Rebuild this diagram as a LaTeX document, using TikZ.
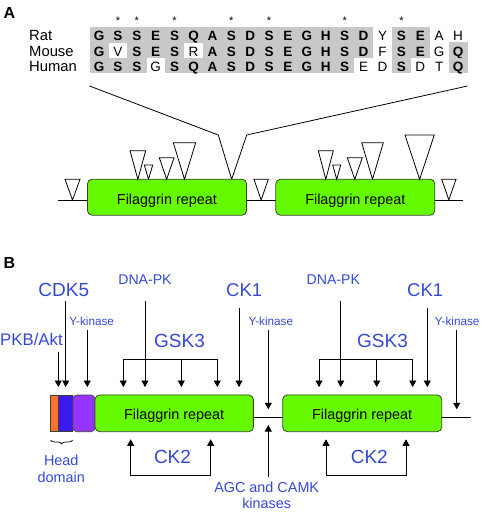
\documentclass[tikz,border=0pt]{standalone}
\usepackage{fontspec}
\setmainfont{Liberation Sans}
\usetikzlibrary{arrows.meta}
\usetikzlibrary{decorations.pathreplacing}

\definecolor{repgreen}{RGB}{102,250,0}
\definecolor{repedge}{RGB}{55,70,40}
\definecolor{kinblue}{RGB}{52,72,214}
\definecolor{seqgrey}{RGB}{200,200,200}
\definecolor{headorange}{RGB}{255,112,44}
\definecolor{headblue}{RGB}{60,24,242}
\definecolor{headpurple}{RGB}{152,52,255}

\newcommand{\fsz}[1]{\fontsize{#1}{#1}\selectfont}

\tikzset{
  repbox/.style={draw=repedge, fill=repgreen, rounded corners=4.5pt, line width=0.8pt,
    minimum width=159pt, minimum height=36pt, inner sep=0pt, font=\fsz{14.4}, text depth=0pt},
  kin/.style={text=kinblue, inner sep=0pt, anchor=base, font=\fsz{#1}},
  kar/.style={-{Triangle[width=7pt,length=6.5pt]}, line width=0.8pt},
  kartwo/.style={{Triangle[width=7pt,length=6.5pt]}-{Triangle[width=7pt,length=6.5pt]}, line width=0.8pt, line join=miter},
  site/.style={draw, fill=white, line width=0.8pt},
  seq/.style={inner sep=0pt, anchor=base, font=\fsz{13.5}},
  spc/.style={inner sep=0pt, anchor=base west, font=\fsz{14.8}},
}

\begin{document}
\begin{tikzpicture}[x=1pt, y=-1pt]
  \useasboundingbox (0,0) rectangle (480,512);

  % --- A: alignment
  \node[inner sep=0pt, anchor=base west, font=\fsz{16}\bfseries] (pa) at (3.3,18.3) {A};
  \node[spc] (rat) at (29,40.7) {Rat};
  \node[spc] (mouse) at (29,56.2) {Mouse};
  \node[spc] (human) at (29,71.7) {Human};

  \foreach \aa/\gg [count=\i from 0] in {G/1,S/1,S/1,E/1,S/1,Q/1,A/1,S/1,D/1,S/1,E/1,G/1,H/1,S/1,D/1,Y/0,S/1,E/1,A/0,H/0}{
    \ifnum\gg=1 \fill[seqgrey] ({89.55+18.9*\i},27) rectangle ++(19.2,15.6); \fi
    \node[seq] (r\i) at ({99+18.9*\i},40.7) {\ifnum\gg=1 \bfseries\fi\aa};
  }
  \foreach \aa/\gg [count=\i from 0] in {G/1,V/0,S/1,E/1,S/1,R/0,A/1,S/1,D/1,S/1,E/1,G/1,H/1,S/1,D/1,F/0,S/1,E/1,G/0,Q/1}{
    \ifnum\gg=1 \fill[seqgrey] ({89.55+18.9*\i},42.33) rectangle ++(19.2,15.6); \fi
    \node[seq] (m\i) at ({99+18.9*\i},56.2) {\ifnum\gg=1 \bfseries\fi\aa};
  }
  \foreach \aa/\gg [count=\i from 0] in {G/1,S/1,S/1,G/0,S/1,Q/1,A/1,S/1,D/1,S/1,E/1,G/1,H/1,S/1,E/0,D/0,S/1,D/0,T/0,Q/1}{
    \ifnum\gg=1 \fill[seqgrey] ({89.55+18.9*\i},57.67) rectangle ++(19.2,15.33); \fi
    \node[seq] (h\i) at ({99+18.9*\i},71.7) {\ifnum\gg=1 \bfseries\fi\aa};
  }
  \foreach \c in {1,2,4,7,9,13,16}
    \node[inner sep=0pt, anchor=base, font=\fsz{11}] (st\c) at ({99+18.9*\c},24.6) {*};

  % zoom lines
  \draw[line width=0.8pt] (89.55,86) -- (218.3,135) -- (231.7,179.3) -- (246.7,135) -- (467.5,86);

  % --- A: gene
  \draw[line width=0.8pt] (58,200) -- (463,200);
  \node[repbox, text height=14.2pt] (fa1) at (167,197.2) {Filaggrin repeat};
  \node[repbox, text height=14.2pt] (fa2) at (355.3,197.2) {Filaggrin repeat};
  \foreach \xl/\xr/\yt/\yb in {65/80/179.3/200, 130/145.7/150.7/179.3, 144.3/152.7/165/179.3,
      159.3/174/157.7/179.3, 173.3/195.7/142.7/179.3, 254/268.3/179.3/200,
      318.3/333.3/150.7/179.3, 332.7/340.7/165/179.3, 347.3/362.3/157.7/179.3,
      361.7/383.3/142.7/179.3, 405/434.3/135/179.3, 441.7/456/179.3/200}
    \draw[site] (\xl,\yt) -- (\xr,\yt) -- ({(\xl+\xr)/2},\yb) -- cycle;

  % --- B: protein
  \node[inner sep=0pt, anchor=base west, font=\fsz{16}\bfseries] (pb) at (3.3,268.3) {B};
  \draw[line width=0.8pt] (250,417.7) -- (470.7,417.7);
  \filldraw[fill=headorange, draw=repedge, line width=0.6pt] (50.7,395) rectangle (58.3,431.7);
  \filldraw[fill=headblue, draw=repedge, line width=0.6pt] (58.3,395) rectangle (72.7,431.7);
  \filldraw[fill=headpurple, draw=repedge, line width=0.6pt, rounded corners=4pt] (72.7,395) rectangle (95,431.7);
  \node[repbox, minimum width=158.3pt, minimum height=36.7pt, text height=12pt] (fb1) at (174.2,413.3) {Filaggrin repeat};
  \node[repbox, minimum width=159pt, minimum height=36.7pt, text height=12pt] (fb2) at (362.2,413.3) {Filaggrin repeat};
  \draw[decorate, decoration={brace, mirror, amplitude=4pt}, line width=0.7pt] (50.7,440) -- (72.7,440);

  % kinase labels
  \node[kin=16.8, anchor=base west] (pkb) at (0,345) {PKB/Akt};
  \node[kin=19] (cdk5) at (63.8,296) {CDK5};
  \node[kin=11.7] (yk1) at (91.7,325) {Y-kinase};
  \node[kin=14.1] (dna1) at (145,284.3) {DNA-PK};
  \node[kin=19] (gsk1) at (179.5,347.3) {GSK3};
  \node[kin=18.5] (ck1a) at (244.2,296) {CK1};
  \node[kin=11.7] (yk2) at (270.8,325) {Y-kinase};
  \node[kin=14.1] (dna2) at (333.3,284.3) {DNA-PK};
  \node[kin=19] (gsk2) at (382.5,347.3) {GSK3};
  \node[kin=18.5] (ck1b) at (425.2,296) {CK1};
  \node[kin=11.7] (yk3) at (457.2,325) {Y-kinase};
  \node[kin=19] (ck2a) at (172.5,463.3) {CK2};
  \node[kin=19] (ck2b) at (369.3,463.3) {CK2};
  \node[text=kinblue, inner sep=0pt, anchor=north, align=center,
    font=\fontsize{14.4}{16.7}\selectfont] (head) at (61.3,455) {Head\\domain};
  \node[text=kinblue, inner sep=0pt, anchor=north, align=center,
    font=\fontsize{14.4}{16}\selectfont] (agc) at (266.7,481.5) {AGC and CAMK\\kinases};

  % arrow ends
  \foreach \n/\x in {pkbt/58.3, cdkt/65.7, ykt1/87.3, g1a/123.3, dnat1/145, g1b/181.3, g1c/217.3,
      ckt1/239, dnat2/340.7, g2a/319, g2b/376.7, g2c/412.7, ckt2/427.3}
    \coordinate (\n) at (\x,387);
  \coordinate (ykt2) at (268.3,409.3);
  \coordinate (ykt3) at (456.7,409.3);
  \coordinate (agct) at (268.3,425);
  \coordinate (gbar) at (0,359.3);
  \coordinate (kbar) at (0,475);
  \coordinate (k1a) at (130.7,439.3);
  \coordinate (k1b) at (210.7,439.3);
  \coordinate (k2a) at (326,439.3);
  \coordinate (k2b) at (406,439.3);

  \draw[kar] (pkb.base -| pkbt) ++(0,6.7) -- (pkbt);
  \draw[kar] (cdk5.base -| cdkt) ++(0,5) -- (cdkt);
  \draw[kar] (yk1.base -| ykt1) ++(0,5) -- (ykt1);
  \draw[kar] (dna1.base -| dnat1) ++(0,16.7) -- (dnat1);
  \draw[kar] (ck1a.base -| ckt1) ++(0,12.3) -- (ckt1);
  \draw[kar] (yk2.base -| ykt2) ++(0,5) -- (ykt2);
  \draw[kar] (dna2.base -| dnat2) ++(0,16.7) -- (dnat2);
  \draw[kar] (ck1b.base -| ckt2) ++(0,12.3) -- (ckt2);
  \draw[kar] (yk3.base -| ykt3) ++(0,5) -- (ykt3);
  \draw[kar] (agc.north -| agct) ++(0,-5) -- (agct);

  \draw[kartwo] (g1a) -- (g1a |- gbar) -- (g1c |- gbar) -- (g1c);
  \draw[kar] (g1b |- gbar) -- (g1b);
  \draw[kartwo] (g2a) -- (g2a |- gbar) -- (g2c |- gbar) -- (g2c);
  \draw[kar] (g2b |- gbar) -- (g2b);
  \draw[kartwo] (k1a) -- (k1a |- kbar) -- (k1b |- kbar) -- (k1b);
  \draw[kartwo] (k2a) -- (k2a |- kbar) -- (k2b |- kbar) -- (k2b);
\end{tikzpicture}
\end{document}
